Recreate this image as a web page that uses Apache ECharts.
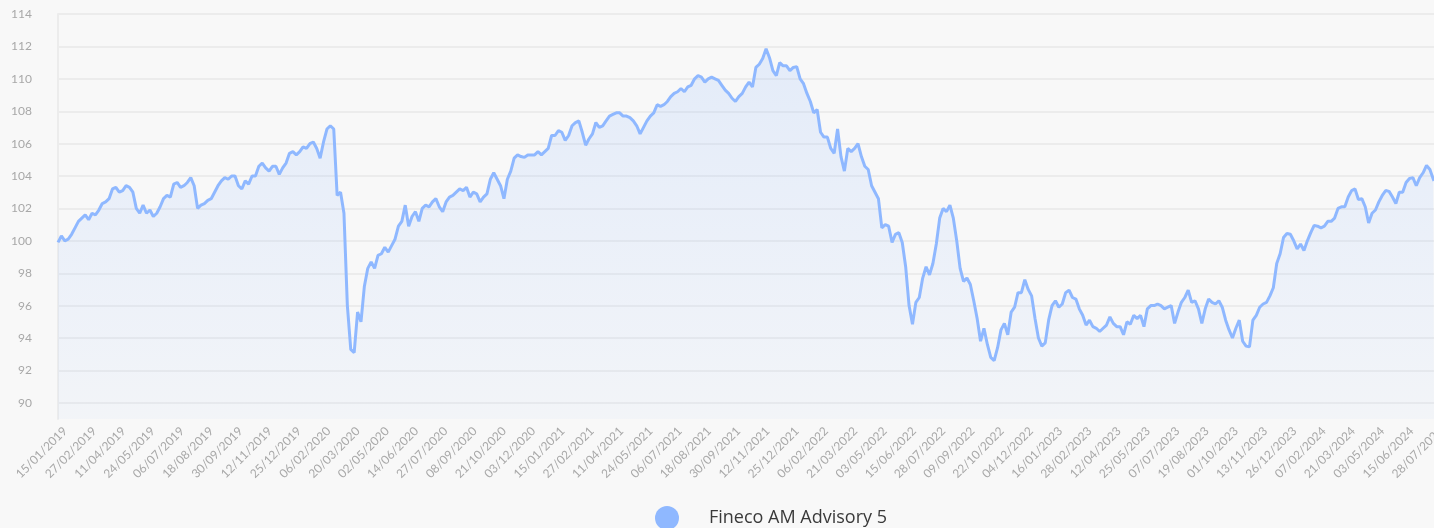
<!DOCTYPE html>
<html>
<head>
<meta charset="utf-8">
<script src="https://cdn.jsdelivr.net/npm/echarts@6/dist/echarts.min.js"></script>
<style>
html,body{margin:0;padding:0;background:#f8f8f8;}
#chart{width:1434px;height:528px;}
</style>
</head>
<body>
<div id="chart"></div>
<script>
// ---- data ----
const seriesName = 'Fineco AM Advisory 5';
const startDate = [2019, 0, 15];      // 15/01/2019
const dayCount = 2022;                // daily categories up to 28/07/2024
const sampleStepDays = 5;             // one reading every 5 calendar days
const yTickValues = [90, 92, 94, 96, 98, 100, 102, 104, 106, 108, 110, 112, 114];

// NAV readings, every 5 days starting 15/01/2019 (last one on 28/07/2024)
const navValues = [
  99.9, 100.3, 100.0, 100.1, 100.4, 100.8, 101.2, 101.4, 101.6, 101.3,
  101.7, 101.6, 101.9, 102.3, 102.4, 102.6, 103.2, 103.3, 103.0, 103.1,
  103.4, 103.3, 103.0, 102.0, 101.7, 102.2, 101.7, 101.9, 101.5, 101.7,
  102.1, 102.6, 102.8, 102.7, 103.5, 103.6, 103.3, 103.4, 103.6, 103.9,
  103.4, 102.0, 102.2, 102.3, 102.5, 102.6, 103.0, 103.4, 103.7, 103.9,
  103.8, 104.0, 104.0, 103.4, 103.2, 103.7, 103.5, 104.0, 104.0, 104.6,
  104.8, 104.5, 104.3, 104.6, 104.6, 104.1, 104.5, 104.8, 105.4,
  105.5, 105.3, 105.5, 105.8, 105.7, 106.0, 106.1, 105.7, 105.1, 106.1,
  106.9, 107.1, 106.9, 102.8, 103.0, 101.7, 96.0, 93.3, 93.1, 95.6,
  95.0, 97.2, 98.3, 98.7, 98.3, 99.1, 99.2, 99.6, 99.3, 99.7,
  100.1, 100.9, 101.2, 102.2, 100.9, 101.5, 101.8, 101.2, 102.0, 102.2,
  102.1, 102.4, 102.6, 102.1, 101.8, 102.4, 102.7, 102.8, 103.0, 103.2,
  103.1, 103.3, 102.7, 103.0, 102.9, 102.4, 102.7, 102.9, 103.8, 104.2,
  103.8, 103.4, 102.6, 103.8, 104.3, 105.1, 105.3,
  105.2, 105.15, 105.3, 105.3, 105.3, 105.5, 105.3, 105.5, 105.7, 106.5,
  106.5, 106.8, 106.7, 106.2, 106.5, 107.1, 107.3, 107.4, 106.7, 105.9,
  106.3, 106.6, 107.3, 107.0, 107.1, 107.4, 107.7, 107.8, 107.9, 107.9,
  107.7, 107.7, 107.6, 107.4, 107.1, 106.6, 107.0, 107.4, 107.7, 107.9,
  108.4, 108.3, 108.4, 108.6, 108.9, 109.1, 109.2, 109.4, 109.2, 109.5,
  109.6, 110.0, 110.2, 110.1, 109.8, 110.0, 110.1, 110.0, 109.9, 109.6,
  109.3, 109.1, 108.8, 108.6, 108.9, 109.1, 109.5,
  109.8, 109.5, 110.7, 110.9, 111.25, 111.85, 111.3, 110.5, 110.2, 111.0,
  110.8, 110.8, 110.5, 110.7, 110.75, 110.0, 109.7, 109.1, 108.6, 107.9,
  108.1, 106.7, 106.4, 106.4, 105.7, 105.4, 106.9, 105.2, 104.3, 105.7,
  105.5, 105.7, 106.0, 105.2, 104.6, 104.4, 103.4, 103.0, 102.6, 100.8,
  101.0, 100.9, 99.9, 100.4, 100.5, 99.9, 98.4, 96.0, 94.85, 96.2,
  96.5, 97.7, 98.4, 97.9, 98.6, 99.8, 101.4, 102.0, 101.8, 102.2,
  101.4, 100.0, 98.3, 97.5, 97.7, 97.3, 96.3, 95.2,
  93.8, 94.6, 93.6, 92.8, 92.6, 93.4, 94.5, 94.9, 94.2, 95.6,
  95.9, 96.8, 96.8, 97.6, 97.0, 96.6, 95.2, 94.0, 93.5, 93.7,
  95.1, 96.0, 96.3, 95.9, 96.1, 96.8, 96.95, 96.5, 96.4, 95.8,
  95.4, 94.8, 95.1, 94.7, 94.6, 94.4, 94.6, 94.8, 95.3, 94.9,
  94.7, 94.7, 94.2, 95.0, 94.85, 95.4, 95.2, 95.4, 94.7, 95.8,
  96.0, 96.0, 96.1, 96.0, 95.8, 95.9, 96.0, 94.9, 95.6, 96.2,
  96.5, 96.95, 96.2, 96.3, 95.8, 94.9, 95.8, 96.4,
  96.2, 96.1, 96.3, 95.9, 95.1, 94.5, 94.0, 94.6, 95.1, 93.8,
  93.5, 93.45, 95.1, 95.4, 95.9, 96.1, 96.2, 96.6, 97.1, 98.6,
  99.2, 100.2, 100.45, 100.4, 100.0, 99.5, 99.8, 99.4, 100.0, 100.5,
  100.95, 100.9, 100.8, 100.9, 101.2, 101.2, 101.4, 102.0, 102.1, 102.1,
  102.7, 103.1, 103.2, 102.55, 102.6, 102.1, 101.1, 101.7, 101.9, 102.4,
  102.8, 103.1, 103.05, 102.7, 102.3, 103.0, 103.0, 103.6, 103.85, 103.9,
  103.4, 103.9, 104.2, 104.65, 104.4, 103.8,
  103.7
];

// ---- build categories (daily dates) ----
function pad(n){ return (n < 10 ? '0' : '') + n; }
const dates = [];
const t0 = Date.UTC(startDate[0], startDate[1], startDate[2]);
for (let i = 0; i < dayCount; i++) {
  const d = new Date(t0 + i * 86400000);
  dates.push(pad(d.getUTCDate()) + '/' + pad(d.getUTCMonth() + 1) + '/' + d.getUTCFullYear());
}
const seriesData = navValues.map((v, k) => [dates[Math.min(k * sampleStepDays, dayCount - 1)], v]);

// ---- chart ----
const chart = echarts.init(document.getElementById('chart'), null, {renderer: 'canvas'});
const lineColor = '#8fb8ff';
const labelGrey = '#a8a8a8';
chart.setOption({
  animation: false,
  backgroundColor: '#f8f8f8',
  legend: {
    left: 650, top: 501,
    icon: 'circle', itemWidth: 24, itemHeight: 24,
    data: [seriesName],
    textStyle: {fontSize: 18, color: '#3a3a3a', fontFamily: 'Open Sans', padding: [0, 0, 0, 25]}
  },
  grid: [
    {left: 58, right: 0, top: 14, bottom: 125, outerBoundsMode: 'none', containLabel: false},
    {left: 58, right: 0, top: 14, bottom: 109, outerBoundsMode: 'none', containLabel: false}
  ],
  xAxis: [
    {gridIndex: 0, type: 'value', show: false, min: 0, max: 1},
    {
      gridIndex: 1, type: 'category', data: dates, boundaryGap: false,
      axisLine: {show: false}, axisTick: {show: false}, splitLine: {show: false},
      axisLabel: {
        interval: 42, rotate: 45, color: labelGrey, fontSize: 12, fontFamily: 'Lato',
        margin: 3, verticalAlign: 'top', lineHeight: 20
      }
    }
  ],
  yAxis: [
    {
      gridIndex: 0, type: 'value', min: yTickValues[0], max: yTickValues[yTickValues.length - 1],
      interval: yTickValues[1] - yTickValues[0],
      axisLine: {show: false}, axisTick: {show: false},
      axisLabel: {color: labelGrey, fontSize: 12, fontFamily: 'Lato', margin: 26},
      splitLine: {show: true, lineStyle: {color: '#ececec', width: 2}}
    },
    {
      gridIndex: 1, type: 'value', min: 89, max: 114,
      axisLine: {show: true, lineStyle: {color: '#ececec', width: 2}},
      axisTick: {show: false}, axisLabel: {show: false}, splitLine: {show: false}
    }
  ],
  series: [{
    name: seriesName, type: 'line', xAxisIndex: 1, yAxisIndex: 1,
    data: seriesData, symbol: 'none', showSymbol: false, smooth: false,
    color: lineColor,
    lineStyle: {color: lineColor, width: 3},
    itemStyle: {color: lineColor},
    areaStyle: {
      color: new echarts.graphic.LinearGradient(0, 0, 0, 1, [
        {offset: 0, color: 'rgba(143,184,255,0.28)'},
        {offset: 1, color: 'rgba(143,184,255,0.08)'}
      ])
    },
    z: 3
  }]
});
</script>
</body>
</html>
